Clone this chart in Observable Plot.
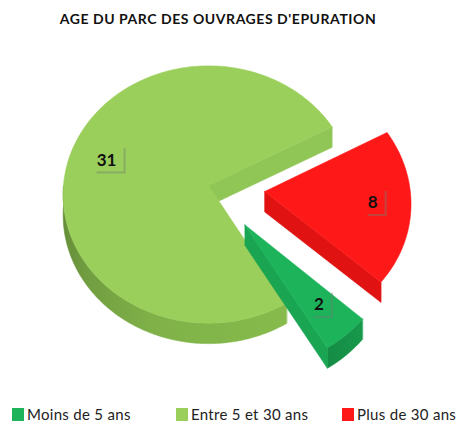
<!DOCTYPE html>
<html><head><meta charset="utf-8">
<script src="https://cdn.jsdelivr.net/npm/d3@7"></script>
<script src="https://cdn.jsdelivr.net/npm/@observablehq/plot@0.6"></script>
<style>
body{margin:0;background:#fff;width:458px;height:426px;overflow:hidden;position:relative;font-family:Lato,"Open Sans",sans-serif;}
#title{position:absolute;top:10px;left:0;width:436px;text-align:center;font-weight:bold;font-size:14px;letter-spacing:0.55px;color:#111;}
#chart{position:absolute;top:40px;left:0;}
.item{position:absolute;top:405px;display:flex;align-items:center;font-size:15px;letter-spacing:0.3px;color:#222;white-space:nowrap;}
.sw{width:12px;height:13px;margin-right:3px;}
</style></head>
<body>
<div id="title">AGE DU PARC DES OUVRAGES D'EPURATION</div>
<div id="chart"></div>
<div id="legend"></div>
<script>
const categories = ["Moins de 5 ans", "Entre 5 et 30 ans", "Plus de 30 ans"];
const values = [2, 31, 8];
const topColors = ["#1db35a", "#9bcf5b", "#ff1818"];
const sideColors = ["#17994b", "#86bb4c", "#cc1010"];
const cutColors = ["#19a551", "#90c656", "#e01212"];
const exploded = [true, false, true];

// geometry / style parameters
const startDeg = 132, explode = 0.39, depth = 0.16, persp = 0.07, labelR = 0.74;
const rad = d => d * Math.PI / 180;
function proj(X, Y, h) { const p = 1 / (1 + persp * Y); return {x: X * p, y: Y * p - h}; }

const total = d3.sum(values);
const polys = [];
const labels = [];
let a = startDeg;
let pid = 0;
function addPoly(pts, c) { const id = pid++; pts.forEach(q => polys.push({id, x: q.x, y: q.y, c})); }

const slices = values.map((v, i) => { const a0 = a; const a1 = a + v / total * 360; a = a1; return {i, a0, a1, v}; });
const order = [1, 2, 0];
for (const i of order) {
  const s = slices[i];
  const mid = (s.a0 + s.a1) / 2;
  const ox = exploded[i] ? explode * Math.sin(rad(mid)) : 0;
  const oy = exploded[i] ? explode * Math.cos(rad(mid)) : 0;
  const P = (ang, r, h) => proj(ox + r * Math.sin(rad(ang)), oy + r * Math.cos(rad(ang)), h);
  const r0 = Math.max(s.a0, 90), r1 = Math.min(s.a1, 270);
  if (r1 > r0) {
    const topArc = [], botArc = [];
    for (let t = r0; t <= r1 + 1e-9; t += 1) { const tt = Math.min(t, r1); topArc.push(P(tt, 1, 0)); botArc.push(P(tt, 1, depth)); }
    topArc.push(P(r1, 1, 0)); botArc.push(P(r1, 1, depth));
    addPoly(topArc.concat(botArc.reverse()), `url(#rim${i})`);
  }
  if (Math.sin(rad(s.a0)) < 0) addPoly([P(0, 0, 0), P(s.a0, 1, 0), P(s.a0, 1, depth), P(0, 0, depth)], cutColors[i]);
  if (Math.sin(rad(s.a1)) > 0) addPoly([P(0, 0, 0), P(s.a1, 1, 0), P(s.a1, 1, depth), P(0, 0, depth)], cutColors[i]);
  const pts = [P(0, 0, 0)];
  for (let t = s.a0; t <= s.a1 + 1e-9; t += 1) pts.push(P(Math.min(t, s.a1), 1, 0));
  pts.push(P(s.a1, 1, 0));
  addPoly(pts, topColors[i]);
  const L = P(mid, labelR, 0);
  labels.push({x: L.x, y: L.y, text: String(s.v)});
}

// L-shaped soft shadow around data labels
const shadowSymbol = w => ({draw(ctx) { ctx.moveTo(w, -12); ctx.lineTo(w, 12); ctx.lineTo(-w + 2, 12); }});
const shadowStyle = {x: "x", y: "y", r: 5, fill: "none", stroke: "#6f7f70", strokeOpacity: 0.4, strokeWidth: 2.2};

const rx = 145, ry = 128, cx = 208, cy = 145, H = 350, W = 458;
const chart = Plot.plot({
  width: W, height: H, margin: 0,
  x: {domain: [-cx / rx, (W - cx) / rx], axis: null},
  y: {domain: [-(H - cy) / ry, cy / ry], axis: null},
  color: {type: "identity"},
  marks: [
    Plot.line(polys, {x: "x", y: "y", z: "id", fill: "c", stroke: "c", strokeWidth: 0.6, curve: "linear-closed"}),
    Plot.dot(labels.filter(d => d.text.length > 1), {...shadowStyle, symbol: shadowSymbol(15), dx: 3, dy: 0}),
    Plot.dot(labels.filter(d => d.text.length === 1), {...shadowStyle, symbol: shadowSymbol(10), dx: 3, dy: 0}),
    Plot.text(labels, {x: "x", y: "y", text: "text", fill: "#111", fontSize: 17, fontWeight: "bold", fontFamily: "Lato, sans-serif"})
  ]
});
const defs = d3.select(chart).insert("defs", ":first-child");
sideColors.forEach((c, i) => {
  const g = defs.append("linearGradient").attr("id", `rim${i}`).attr("x1", 0).attr("x2", 1).attr("y1", 0).attr("y2", 0);
  const stops = i === 1 ? [[0, 0.75], [0.12, 0.45], [0.4, 0.15], [1, 0]] : [[0, 0.25], [1, 0]];
  stops.forEach(([o, k]) => g.append("stop").attr("offset", o).attr("stop-color", d3.color(c).darker(k).formatHex()));
});
document.getElementById("chart").appendChild(chart);

const legendX = [12, 176, 342];
const leg = document.getElementById("legend");
categories.forEach((c, i) => {
  const d = document.createElement("div");
  d.className = "item"; d.style.left = legendX[i] + "px";
  d.innerHTML = `<span class="sw" style="background:${topColors[i]}"></span>${c}`;
  leg.appendChild(d);
});
</script>
</body></html>
